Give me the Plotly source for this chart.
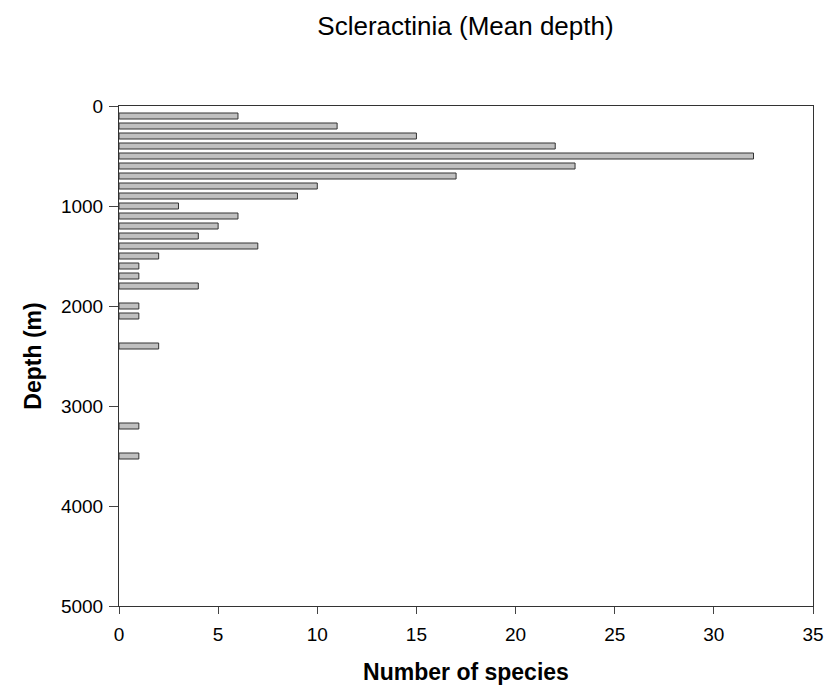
import plotly.graph_objects as go

depths = [100, 200, 300, 400, 500, 600, 700, 800, 900, 1000, 1100, 1200, 1300,
          1400, 1500, 1600, 1700, 1800, 2000, 2100, 2400, 3200, 3500]
species = [6, 11, 15, 22, 32, 23, 17, 10, 9, 3, 6, 5, 4, 7, 2, 1, 1, 4, 1, 1, 2, 1, 1]

x_ticks = [0, 5, 10, 15, 20, 25, 30, 35]
y_ticks = [0, 1000, 2000, 3000, 4000, 5000]

fig = go.Figure(go.Bar(
    x=species, y=depths, orientation="h", width=60,
    marker=dict(color="#C0C0C0", line=dict(color="#333333", width=1)),
))

font = "Liberation Sans, Arial, sans-serif"
fig.update_layout(
    width=832, height=691,
    margin=dict(l=119, r=19, t=106, b=85),
    paper_bgcolor="white", plot_bgcolor="white",
    showlegend=False,
    font=dict(family=font, color="black", size=19),
    title=dict(text="Scleractinia (Mean depth)", x=0.5595, xanchor="center",
               y=1 - 26 / 691, yanchor="middle", font=dict(size=26, family=font)),
    xaxis=dict(range=[0, 35], tickvals=x_ticks, ticks="outside", ticklen=7,
               ticklabelstandoff=4, automargin=False,
               showline=True, linecolor="#333333", linewidth=1, mirror=True,
               showgrid=False, zeroline=False,
               title=dict(text="<b>Number of species</b>", font=dict(size=23), standoff=20)),
    yaxis=dict(range=[5000, 0], tickvals=y_ticks, ticks="outside", ticklen=9,
               ticklabelstandoff=2, automargin=False,
               showline=True, linecolor="#333333", linewidth=1, mirror=True,
               showgrid=False, zeroline=False,
               title=dict(text="<b>Depth (m)</b>", font=dict(size=23), standoff=12)),
)

fig.write_html("out.html")
